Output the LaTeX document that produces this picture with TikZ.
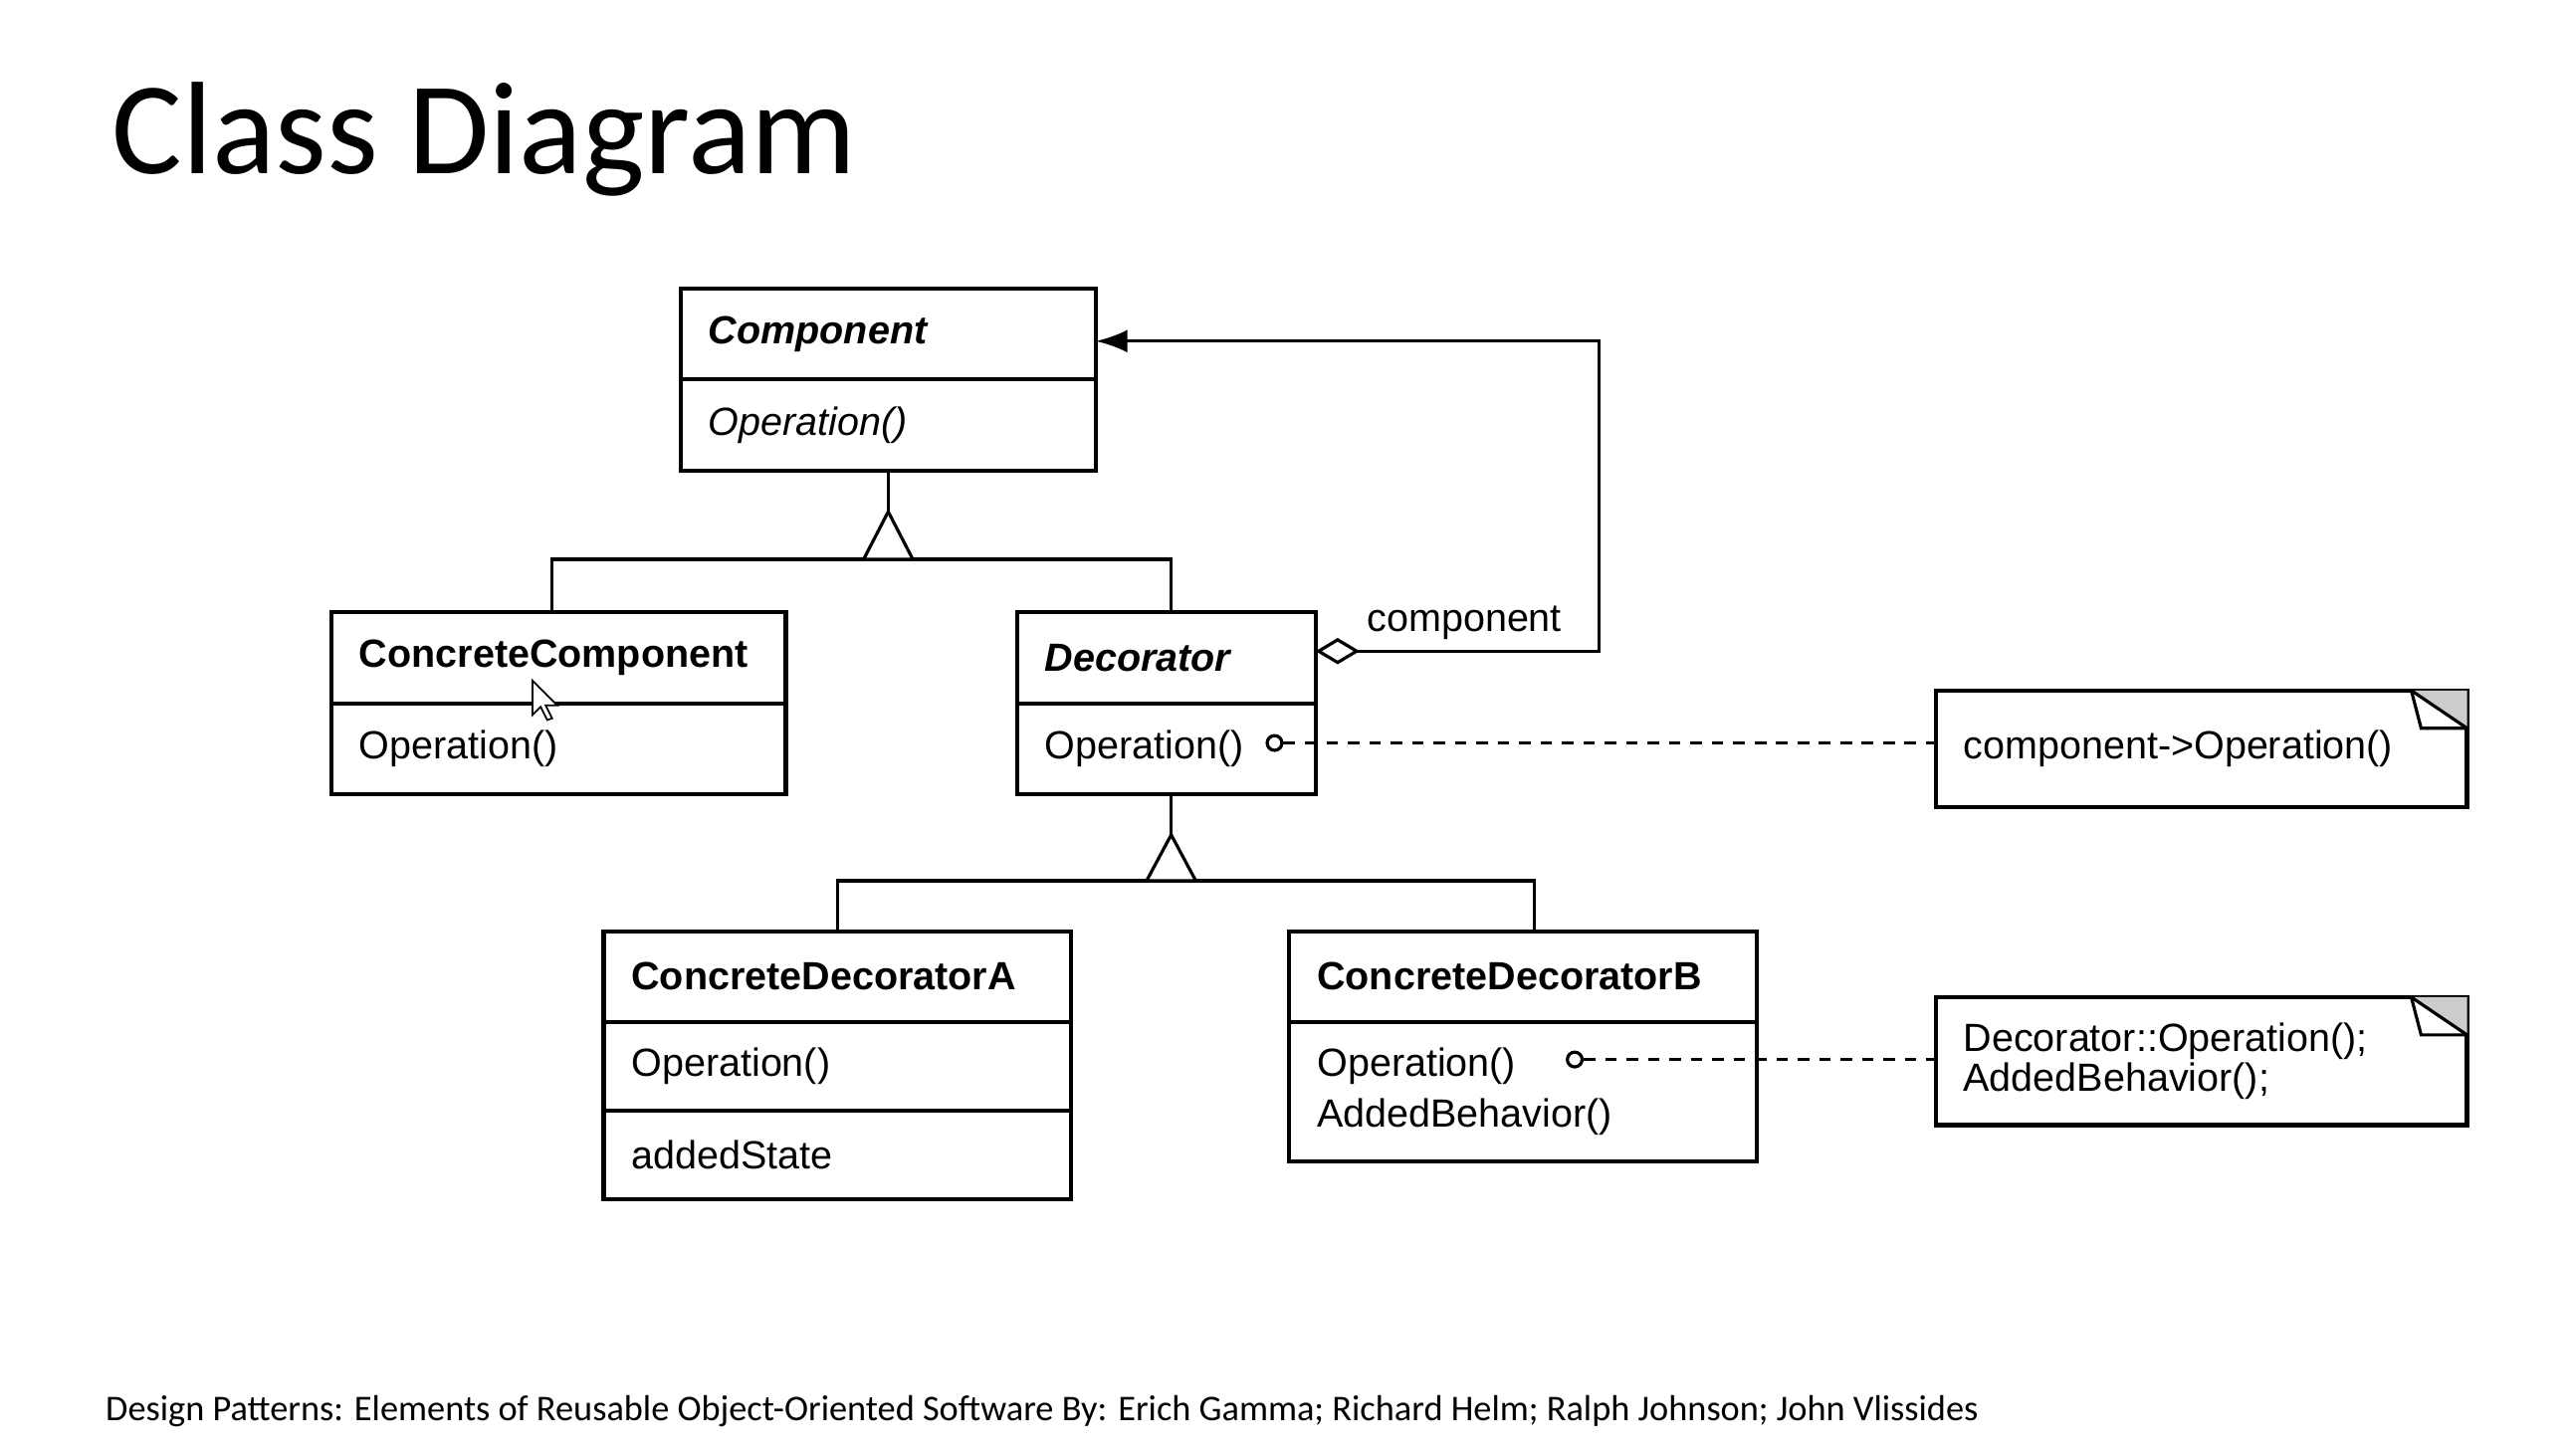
\documentclass[tikz,border=0pt]{standalone}
\usepackage{fontspec}
\setmainfont{Liberation Sans}
\newfontfamily\slidefont{Carlito}
\usetikzlibrary{positioning,arrows.meta,calc}
\newlength\px
\setlength\px{0.4672pt}
\tikzset{
  umlbox/.style={draw, line width=1.2pt, outer sep=0pt, inner xsep=17*\px, inner ysep=0pt,
    minimum width=#1*\px, text width=(#1-34)*\px, align=left,
    font=\fontsize{11.2}{14.5}\selectfont},
  clshead/.style={umlbox=#1, minimum height=55*\px, font=\fontsize{11.2}{14.5}\selectfont\bfseries},
  abstract/.style={font=\fontsize{11.2}{14.5}\selectfont\bfseries\itshape},
  link/.style={line width=0.9pt},
  notelink/.style={line width=0.9pt, dash pattern=on 3.3pt off 2.8pt},
  dot/.style={circle, draw, line width=0.9pt, minimum size=9*\px, inner sep=0pt, fill=white}
}

\begin{document}
\begin{tikzpicture}[x=\px, y=-\px]
  \fill[white] (0,0) rectangle (1568,887.2);

  \node[anchor=base west, inner sep=0pt, font=\slidefont\fontsize{37.5}{44}\selectfont] (title) at (68,106) {Class Diagram};

  % classes
  \node[clshead=253, abstract, anchor=north west] (comp) at (415,176) {Component};
  \node[umlbox=253, minimum height=56*\px, below=0pt of comp, font=\fontsize{11.2}{14.5}\selectfont\itshape] (comp-ops) {Operation()};

  \node[clshead=277, minimum height=56*\px, anchor=north west] (cc) at (202,373) {ConcreteComponent};
  \node[umlbox=277, minimum height=55*\px, below=0pt of cc] (cc-ops) {Operation()};

  \node[clshead=182, abstract, minimum height=56*\px, anchor=north west] (dec) at (620,373) {Decorator};
  \node[umlbox=182, minimum height=55*\px, below=0pt of dec] (dec-ops) {Operation()};

  \node[clshead=285, anchor=north west] (cda) at (368,568) {ConcreteDecoratorA};
  \node[umlbox=285, minimum height=54*\px, below=0pt of cda] (cda-ops) {Operation()};
  \node[umlbox=285, minimum height=54*\px, below=0pt of cda-ops] (cda-state) {addedState};

  \node[clshead=285, anchor=north west] (cdb) at (786,568) {ConcreteDecoratorB};
  \node[umlbox=285, minimum height=85*\px, below=0pt of cdb] (cdb-ops) {Operation()\\AddedBehavior()};

  % notes
  \node[umlbox=324, minimum height=71*\px, anchor=north west] (note1) at (1180,421) {component->Operation()};
  \node[umlbox=324, minimum height=78*\px, anchor=north west, font=\fontsize{11.2}{11.4}\selectfont] (note2) at (1180,608) {Decorator::Operation();\\AddedBehavior();};
  \foreach \n in {note1,note2}{
    \fill[gray!40] (\n.north east) -- ++(-34,0) -- ++(34,23) -- cycle;
    \draw[link] (\n.north east) ++(-34,0) -- ++(6,23) -- ++(28,0);
    \draw[link] (\n.north east) ++(-34,0) -- ++(34,23);
  }

  % inheritance
  \draw[link] (comp-ops.south) -- ++(0,25) coordinate (apex1);
  \draw[link] ($(cc.north)+(-4,0)$) -- ++(0,-32) -| ($(dec.north)+(3,0)$);
  \draw[link, fill=white] (apex1) -- ++(-15,29) -- ++(30,0) -- cycle;

  \draw[link] ($(dec-ops.south)+(3,0)$) -- ++(0,25) coordinate (apex2);
  \draw[link] (cda.north) -- ++(0,-31) -| ($(cdb.north)+(7,0)$);
  \draw[link, fill=white] (apex2) -- ++(-15,28) -- ++(30,0) -- cycle;

  % aggregation
  \draw[link, {Diamond[open,length=12.6pt,width=7.5pt]}-{Latex[length=9pt,width=6.5pt]}]
    ($(dec.east)+(0,-4)$) -- ++(173,0) |- ($(comp.east)+(0,4.5)$);
  \node[anchor=base west, inner sep=0pt, font=\fontsize{11.2}{14.5}\selectfont] (role) at (833,385) {component};

  % implementation notes
  \node[dot] (dot1) at (777,453) {};
  \node[dot] (dot2) at (960,646) {};
  \draw[notelink] (dot1) -- (dot1 -| note1.west);
  \draw[notelink] (dot2) -- (dot2 -| note2.west);

  \node[anchor=base west, inner sep=0pt, font=\slidefont\fontsize{10.3}{12}\selectfont] (credit) at (64,866) {Design Patterns: Elements of Reusable Object-Oriented Software By: Erich Gamma; Richard Helm; Ralph Johnson; John Vlissides};

  % mouse pointer
  \draw[line width=0.5pt, fill=white] (324.6,415) -- ++(0,21) -- ++(5,-5) -- ++(4,8) -- ++(3,-1) -- ++(-4,-8) -- ++(7,0) -- cycle;
\end{tikzpicture}
\end{document}
